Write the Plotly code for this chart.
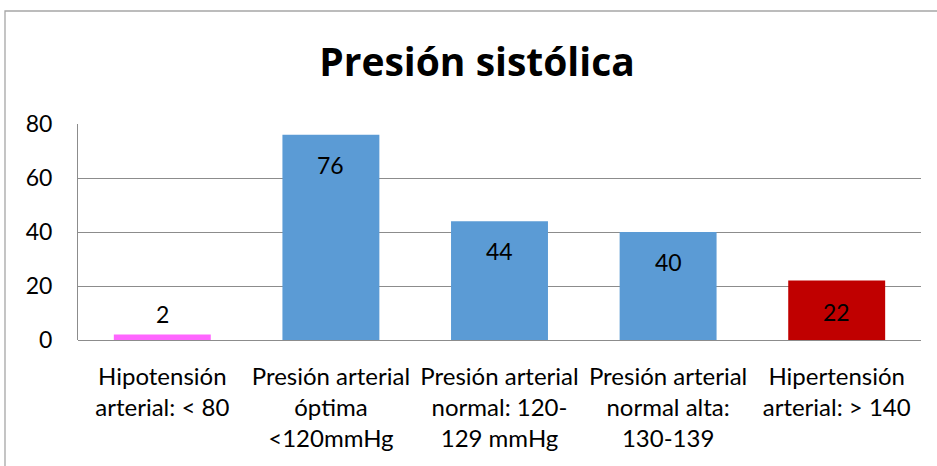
import plotly.graph_objects as go

categories = [
    "Hipotensión<br>arterial: &lt; 80",
    "Presión arterial<br>óptima<br>&lt;120mmHg",
    "Presión arterial<br>normal: 120-<br>129 mmHg",
    "Presión arterial<br>normal alta:<br>130-139",
    "Hipertensión<br>arterial: &gt; 140",
]
values = [2, 76, 44, 40, 22]
colors = ["#FF66FF", "#5B9BD5", "#5B9BD5", "#5B9BD5", "#C00000"]
label_shift = [21, -30, -30, -30, -31]
y_ticks = [0, 20, 40, 60, 80]

FONT = "Lato"

fig = go.Figure()
fig.add_trace(go.Bar(
    x=categories,
    y=values,
    marker=dict(color=colors, line=dict(width=0)),
    hoverinfo="x+y",
))

for c, v, s in zip(categories, values, label_shift):
    fig.add_annotation(x=c, y=v, xref="x", yref="y", text=str(v), showarrow=False,
                       yshift=s, yanchor="middle", xanchor="center",
                       font=dict(family=FONT, size=23, color="#000000"))

W, H = 937, 466
L, R, T, B = 78, 16, 124, 126
pw = W - L - R
ph = H - T - B

def px_x(p):
    return (p - L) / pw

def px_y(p):
    return (H - B - p) / ph

fig.add_shape(type="rect", xref="paper", yref="paper",
              x0=px_x(5), x1=px_x(960), y0=px_y(11), y1=px_y(490),
              line=dict(color="#A6A6A6", width=1.3), fillcolor="rgba(0,0,0,0)", layer="below")

fig.update_layout(
    width=W, height=H,
    margin=dict(l=L, r=R, t=T, b=B, autoexpand=False),
    paper_bgcolor="white",
    plot_bgcolor="white",
    bargap=0.425,
    showlegend=False,
    title=dict(text="<b>Presión sistólica</b>", x=477 / W, xanchor="center",
               y=1 - 62 / H, yanchor="middle", automargin=False,
               font=dict(family="Open Sans", size=39, color="#000000")),
    font=dict(family=FONT, size=23, color="#000000"),
)
fig.update_xaxes(showgrid=False, showline=False, ticks="", automargin=False,
                 tickfont=dict(family=FONT, size=24), ticklabelstandoff=20)
fig.update_yaxes(range=[0, 80], tickvals=y_ticks, showgrid=True, gridcolor="#8C8C8C", gridwidth=1,
                 showline=True, linecolor="#8C8C8C", linewidth=1, zeroline=True,
                 zerolinecolor="#8C8C8C", zerolinewidth=1, ticks="", ticklen=0, automargin=False,
                 tickfont=dict(family=FONT, size=23), ticklabelstandoff=20)

fig.write_html("out.html", config={"displayModeBar": False},
               post_script="document.body.style.margin='0';document.body.style.overflow='hidden';")
